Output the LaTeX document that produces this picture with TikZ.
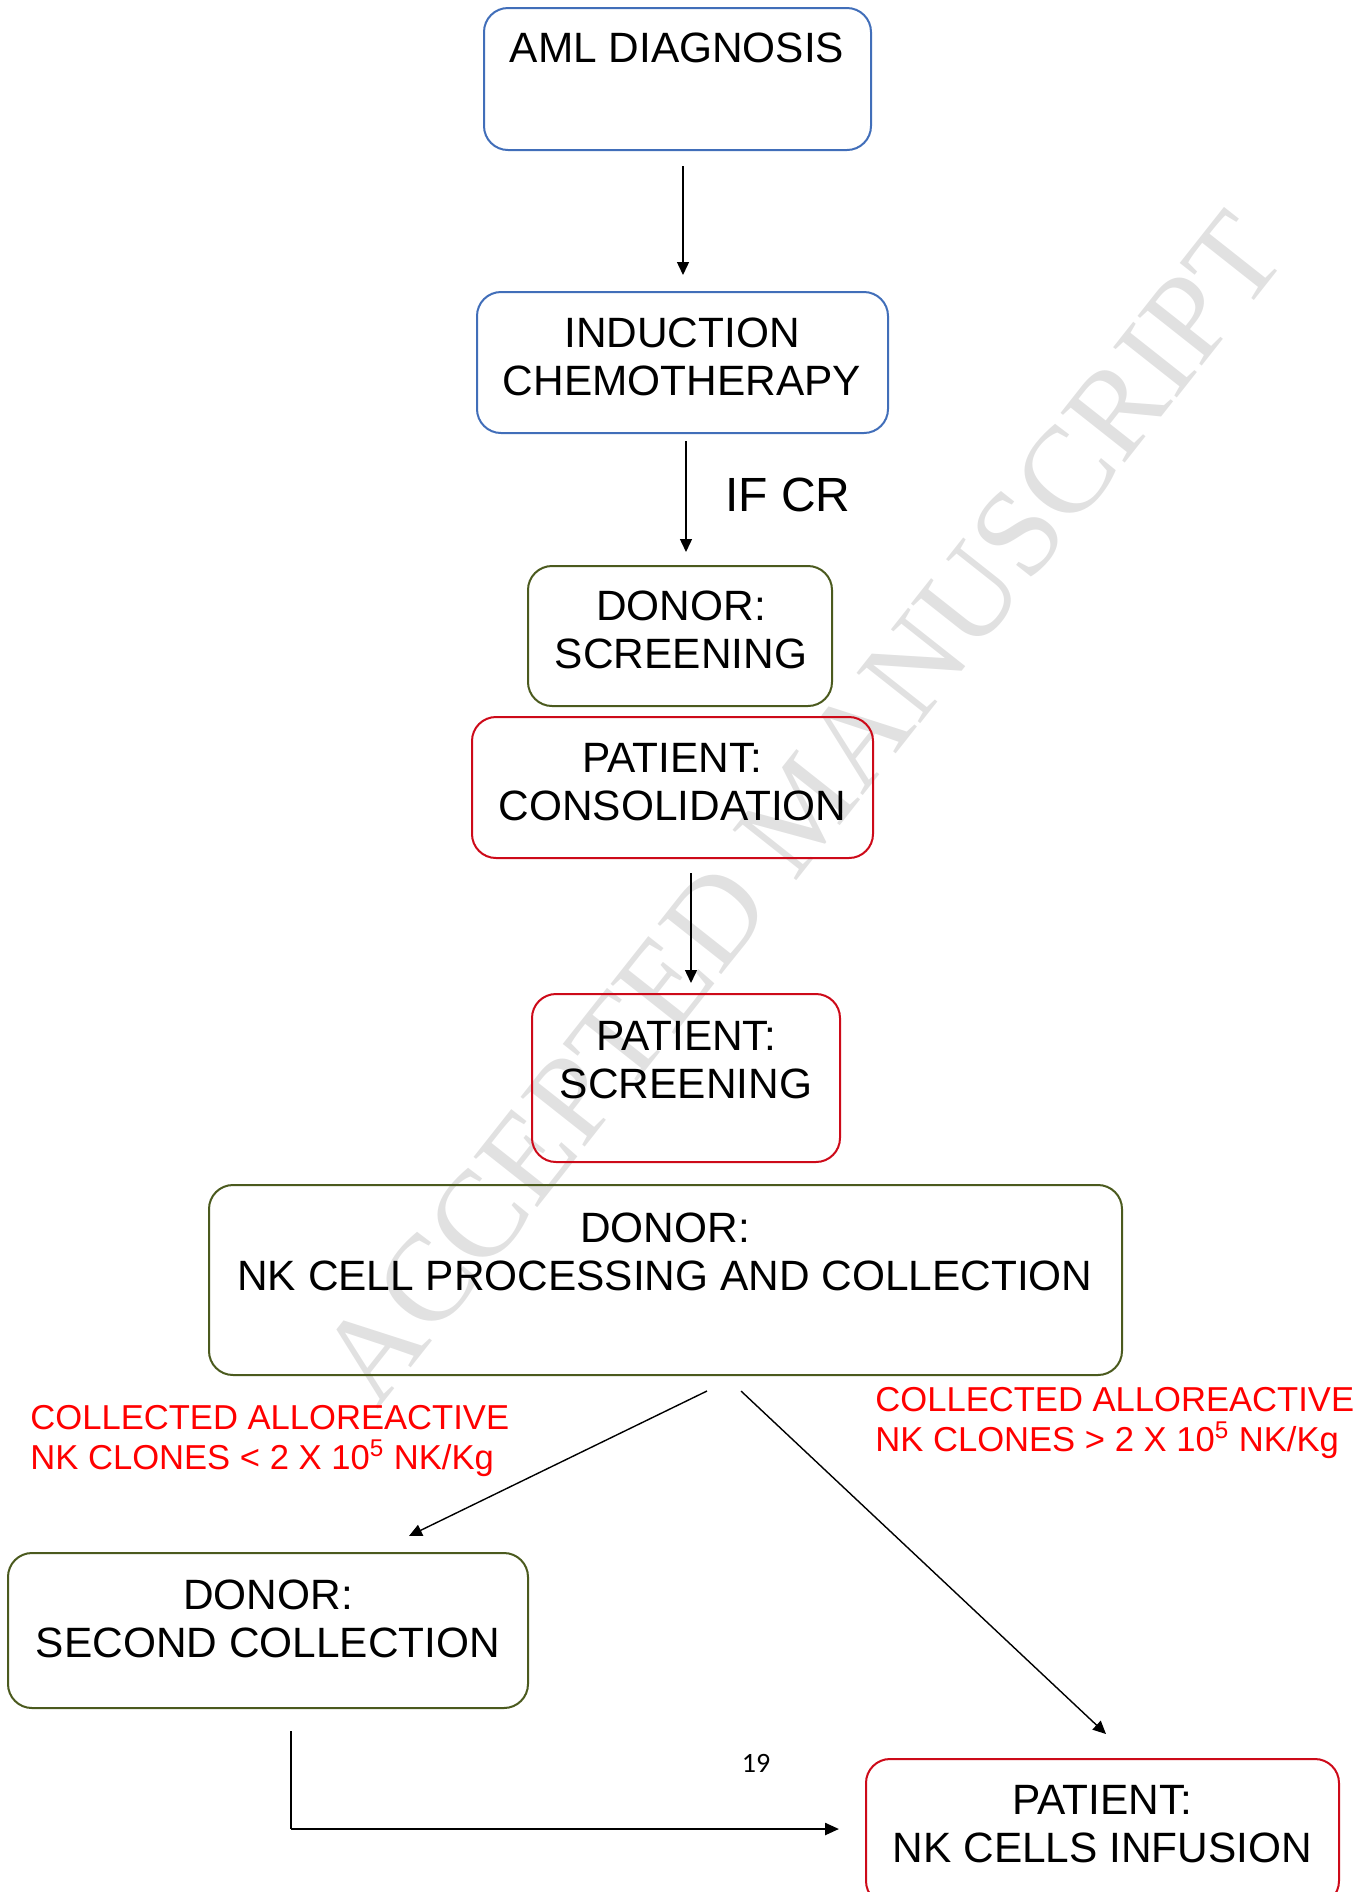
\documentclass[tikz,border=0pt]{standalone}
\usepackage{fontspec}
\setmainfont{Liberation Sans}
\newfontfamily\wmfont{Liberation Serif}
\newfontfamily\pgfont{Carlito}
\usetikzlibrary{arrows.meta,calc}
\definecolor{boxblue}{RGB}{65,110,185}
\definecolor{boxolive}{RGB}{75,90,30}
\definecolor{boxred}{RGB}{205,10,25}
\definecolor{labred}{RGB}{255,0,0}
\definecolor{wmgray}{RGB}{225,225,225}
\begin{document}
\begin{tikzpicture}[x=0.5pt,y=-0.5pt,
  box/.style={draw,rounded corners=12pt,line width=1pt,inner sep=0pt},
  bluebox/.style={box,draw=boxblue},
  olivebox/.style={box,draw=boxolive},
  redbox/.style={box,draw=boxred},
  txt/.style={font=\fontsize{21.2}{24}\selectfont,align=center,inner sep=0pt},
  redtxt/.style={text=labred,font=\fontsize{17.3}{20}\selectfont,align=left,inner sep=0pt},
  arr/.style={-{Triangle[length=6.5pt,width=6pt]},line width=0.7pt}]
\useasboundingbox (0,0) rectangle (1362,1892);
% watermark
\node[text=wmgray,font=\wmfont\fontsize{62}{62}\selectfont,rotate=51.7,inner sep=0pt] (wm) at (802,808) {ACCEPTED MANUSCRIPT};
% boxes
\node[bluebox,minimum width=193.5pt,minimum height=71pt] (aml) at (677.5,79) {};
\node[txt] (amlt) at (677,48) {AML DIAGNOSIS};
\node[bluebox,minimum width=205.5pt,minimum height=70.5pt] (ind) at (682.5,362.5) {};
\node[txt] (indt) at (682,357) {INDUCTION\\CHEMOTHERAPY};
\node[olivebox,minimum width=152pt,minimum height=70pt] (dscr) at (680,636) {};
\node[txt] (dscrt) at (681,630) {DONOR:\\SCREENING};
\node[redbox,minimum width=200.5pt,minimum height=70.5pt] (pcons) at (672.5,787.5) {};
\node[txt] (pconst) at (672.5,782) {PATIENT:\\CONSOLIDATION};
\node[redbox,minimum width=154pt,minimum height=84pt] (pscr) at (686,1078) {};
\node[txt] (pscrt) at (686,1060) {PATIENT:\\SCREENING};
\node[olivebox,minimum width=456.5pt,minimum height=95pt] (dnk) at (665.5,1280) {};
\node[txt] (dnkt) at (665,1252) {DONOR:\\NK CELL PROCESSING AND COLLECTION};
\node[olivebox,minimum width=260pt,minimum height=77.5pt] (dsec) at (268,1630.5) {};
\node[txt] (dsect) at (268,1619) {DONOR:\\SECOND COLLECTION};
\node[redbox,minimum width=236.5pt,minimum height=73pt] (pinf) at (1102.5,1832) {};
\node[txt] (pinft) at (1102.5,1824) {PATIENT:\\NK CELLS INFUSION};
% labels
\node[font=\fontsize{24}{28}\selectfont,inner sep=0pt] (ifcr) at (788,495) {IF CR};
\node[redtxt,anchor=west] (lowl) at (30,1441) {COLLECTED ALLOREACTIVE\\NK CLONES < 2 X 10\textsuperscript{5} NK/Kg};
\node[redtxt,anchor=west] (highl) at (875,1422.5) {COLLECTED ALLOREACTIVE\\NK CLONES > 2 X 10\textsuperscript{5} NK/Kg};
\node[font=\pgfont\fontsize{14}{16}\selectfont,inner sep=0pt] (pgno) at (756,1763) {19};
% connectors
\draw[arr] ([xshift=2.75pt,yshift=-7.5pt]aml.south) -- ([xshift=0.25pt,yshift=8pt]ind.north);
\draw[arr] ([xshift=1.75pt,yshift=-3.5pt]ind.south) -- ([xshift=3pt,yshift=6.5pt]dscr.north);
\draw[arr] ([xshift=9.25pt,yshift=-7pt]pcons.south) -- ([xshift=2.5pt,yshift=5pt]pscr.north);
\draw[arr] ([xshift=20.75pt,yshift=-7.5pt]dnk.south) -- ([xshift=70.5pt,yshift=8pt]dsec.north);
\draw[arr] ([xshift=37.75pt,yshift=-7.5pt]dnk.south) -- ([xshift=1.75pt,yshift=12pt]pinf.north);
\coordinate (corner) at (291,1829);
\draw[line width=0.6pt] ([xshift=11.5pt,yshift=-11pt]dsec.south) -- (corner);
\draw[-{Triangle[length=7pt,width=6pt]},line width=1.2pt] (corner) -- ([xshift=-13pt,yshift=1.5pt]pinf.west);
\end{tikzpicture}
\end{document}
